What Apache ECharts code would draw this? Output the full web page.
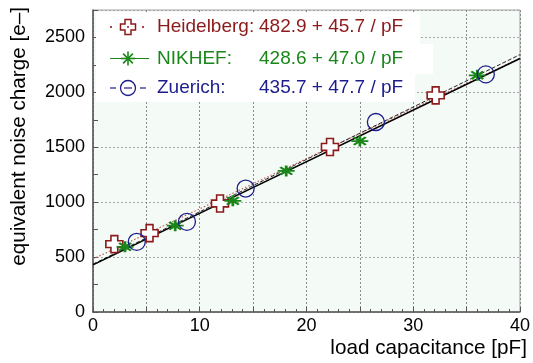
<!DOCTYPE html>
<html>
<head>
<meta charset="utf-8">
<script src="https://cdn.jsdelivr.net/npm/echarts@6/dist/echarts.min.js"></script>
<style>
  html, body { margin: 0; padding: 0; background: #fff; }
  #chart { width: 533px; height: 363px; }
</style>
</head>
<body>
<div id="chart"></div>
<script>
// Measured equivalent noise charge vs. load capacitance, three readout groups
const groupNames = ['Heidelberg', 'NIKHEF', 'Zuerich'];
const groupColors = ['#8c1a1a', '#1a861a', '#1c1c8c'];

const capHeidelberg = [2.0, 5.3, 11.9, 22.2, 32.1];
const encHeidelberg = [618, 718, 988, 1503, 1973];

const capNikhef = [3.0, 7.7, 13.1, 18.1, 25.0, 36.0];
const encNikhef = [594, 786, 1012, 1285, 1557, 2155];

const capZuerich = [4.1, 8.8, 14.3, 26.5, 36.8];
const encZuerich = [639, 821, 1124, 1730, 2164];

// Linear fits: ENC = intercept + slope * C
const fitIntercept = [482.9, 428.6, 435.7];
const fitSlope = [45.7, 47.0, 47.7];

const capRange = [0, 40];
const encRange = [0, 2750];

const FONT = 'Liberation Sans, Arial, Helvetica, sans-serif';

// marker outlines on a 10x10 box
const crossPts = [[3,0],[7,0],[7,3],[10,3],[10,7],[7,7],[7,10],[3,10],[3,7],[0,7],[0,3],[3,3]];
const crossPath = 'M' + crossPts.map(p => p.join(',')).join('L') + 'Z';
const starSpokes = [[0,5,10,5],[5,0,5,10],[1.5,1.5,8.5,8.5],[1.5,8.5,8.5,1.5]];
const starPath = starSpokes.map(s => 'M' + s[0] + ',' + s[1] + 'L' + s[2] + ',' + s[3]).join('');

function pairs(xs, ys) { return xs.map((x, i) => [x, ys[i]]); }
function fitLine(i) {
  return capRange.map(c => [c, fitIntercept[i] + fitSlope[i] * c]);
}
function fitText(i) {
  return fitIntercept[i].toFixed(1) + ' + ' + fitSlope[i].toFixed(1) + ' / pF';
}

const chart = echarts.init(document.getElementById('chart'), null, { renderer: 'canvas' });

const axisColor = '#555';
const legendRowsY = [27, 58.5, 88];
const iconX = 128;

const graphic = [
  // white legend panel
  { type: 'rect', z: 100, shape: { x: 96, y: 12, width: 324, height: 32 }, style: { fill: '#fff' } },
  { type: 'rect', z: 100, shape: { x: 96, y: 44, width: 337, height: 30 }, style: { fill: '#fff' } },
  { type: 'rect', z: 100, shape: { x: 96, y: 74, width: 319, height: 28 }, style: { fill: '#fff' } },
  // Heidelberg icon: dotted line with open cross
  { type: 'circle', z: 101, shape: { cx: 111, cy: legendRowsY[0], r: 1.1 }, style: { fill: groupColors[0] } },
  { type: 'circle', z: 101, shape: { cx: 143, cy: legendRowsY[0], r: 1.1 }, style: { fill: groupColors[0] } },
  { type: 'polygon', z: 101,
    shape: { points: crossPts.map(p => [iconX - 7.5 + p[0] * 1.5, legendRowsY[0] - 7.5 + p[1] * 1.5]) },
    style: { fill: '#fff', stroke: groupColors[0], lineWidth: 1.5 } },
  { type: 'circle', z: 102, shape: { cx: iconX, cy: legendRowsY[0], r: 1 }, style: { fill: groupColors[0] } },
  // NIKHEF icon: solid line with asterisk
  { type: 'line', z: 101, shape: { x1: 110, y1: legendRowsY[1], x2: 149, y2: legendRowsY[1] }, style: { stroke: groupColors[1], lineWidth: 1.2 } },
  // Zuerich icon: dashed line with open circle
  { type: 'line', z: 101, shape: { x1: 110, y1: legendRowsY[2], x2: 116, y2: legendRowsY[2] }, style: { stroke: groupColors[2], lineWidth: 1.2 } },
  { type: 'line', z: 101, shape: { x1: 140, y1: legendRowsY[2], x2: 146, y2: legendRowsY[2] }, style: { stroke: groupColors[2], lineWidth: 1.2 } },
  { type: 'line', z: 101, shape: { x1: 124, y1: legendRowsY[2], x2: 132, y2: legendRowsY[2] }, style: { stroke: groupColors[2], lineWidth: 1.2 } },
  { type: 'circle', z: 101, shape: { cx: iconX, cy: legendRowsY[2], r: 7.5 }, style: { fill: 'none', stroke: groupColors[2], lineWidth: 1.3 } },
  // axis titles
  { type: 'text', z: 100, x: 527, y: 348,
    style: { text: 'load capacitance [pF]', font: '20.7px ' + FONT, fill: '#000', textAlign: 'right', textVerticalAlign: 'middle' } },
  { type: 'text', z: 100, x: 19, y: 7, rotation: Math.PI / 2,
    style: { text: 'equivalent noise charge [e\u2013]', font: '20.7px ' + FONT, fill: '#000', textAlign: 'right', textVerticalAlign: 'middle' } }
];

// asterisk spokes of the NIKHEF legend icon
starSpokes.forEach(s => {
  graphic.push({ type: 'line', z: 101,
    shape: { x1: iconX - 7 + s[0] * 1.4, y1: legendRowsY[1] - 7 + s[1] * 1.4, x2: iconX - 7 + s[2] * 1.4, y2: legendRowsY[1] - 7 + s[3] * 1.4 },
    style: { stroke: groupColors[1], lineWidth: 1.6 } });
});

groupNames.forEach((name, i) => {
  graphic.push({ type: 'text', z: 102, x: 157, y: legendRowsY[i],
    style: { text: name + ':', font: '19px ' + FONT, fill: groupColors[i], textVerticalAlign: 'middle' } });
  graphic.push({ type: 'text', z: 102, x: 259, y: legendRowsY[i],
    style: { text: fitText(i), font: '19px ' + FONT, fill: groupColors[i], textVerticalAlign: 'middle' } });
});

const option = {
  animation: false,
  backgroundColor: '#fff',
  grid: {
    left: 93, right: 8, top: 10, bottom: 51,
    show: true, backgroundColor: '#f4faf6', borderColor: '#a0a0a0', borderWidth: 1
  },
  xAxis: {
    type: 'value', min: capRange[0], max: capRange[1], interval: 5,
    axisLine: { show: true, onZero: false, lineStyle: { color: axisColor, width: 1.5 } },
    axisTick: { show: true, inside: true, length: 5, lineStyle: { color: axisColor } },
    minorTick: { show: true, splitNumber: 5, length: 3, lineStyle: { color: axisColor } },
    splitLine: { show: true, lineStyle: { color: '#8a8a8a', type: [2, 2], width: 1 } },
    axisLabel: {
      formatter: v => (v % 10 === 0 ? String(v) : ''),
      fontSize: 18, fontFamily: FONT, color: '#000', margin: 5
    }
  },
  yAxis: [
    {
      type: 'value', min: encRange[0], max: encRange[1], interval: 500, position: 'left',
      axisLine: { show: true, onZero: false, lineStyle: { color: axisColor, width: 1.5 } },
      axisTick: { show: false },
      splitLine: { show: true, lineStyle: { color: '#a8a8a8', type: [2, 2], width: 1 } },
      axisLabel: { showMaxLabel: false, formatter: v => String(v), fontSize: 18, fontFamily: FONT, color: '#000', margin: 8 }
    },
    {
      // fine tick marks every 250 e-
      type: 'value', min: encRange[0], max: encRange[1], interval: 250, position: 'left',
      axisLine: { show: false },
      axisTick: { show: true, inside: true, length: 5, lineStyle: { color: axisColor } },
      splitLine: { show: false },
      axisLabel: { show: false }
    }
  ],
  series: [
    {
      name: 'Heidelberg fit', type: 'line', data: fitLine(0), symbol: 'none', silent: true, z: 2,
      lineStyle: { color: '#c06060', width: 1.2, type: [1.5, 2] }
    },
    {
      name: 'Zuerich fit', type: 'line', data: fitLine(2), symbol: 'none', silent: true, z: 2,
      lineStyle: { color: '#222', width: 1, type: [4, 2] }
    },
    {
      name: 'NIKHEF fit', type: 'line', data: fitLine(1), symbol: 'none', silent: true, z: 3,
      lineStyle: { color: '#000', width: 1.5 }
    },
    {
      name: 'Heidelberg', type: 'scatter', data: pairs(capHeidelberg, encHeidelberg), z: 5,
      symbol: 'path://' + crossPath, symbolSize: 17,
      itemStyle: { color: '#fff', borderColor: groupColors[0], borderWidth: 1.6, opacity: 1 }
    },
    {
      name: 'NIKHEF', type: 'scatter', data: pairs(capNikhef, encNikhef), z: 6,
      symbol: 'path://' + starPath, symbolSize: [17, 11],
      itemStyle: { color: 'none', borderColor: groupColors[1], borderWidth: 2.2, opacity: 1 }
    },
    {
      name: 'Zuerich', type: 'scatter', data: pairs(capZuerich, encZuerich), z: 6,
      symbol: 'circle', symbolSize: 17,
      itemStyle: { color: 'rgba(0,0,0,0)', borderColor: groupColors[2], borderWidth: 1.3, opacity: 1 }
    }
  ],
  graphic: graphic
};

chart.setOption(option);
</script>
</body>
</html>
